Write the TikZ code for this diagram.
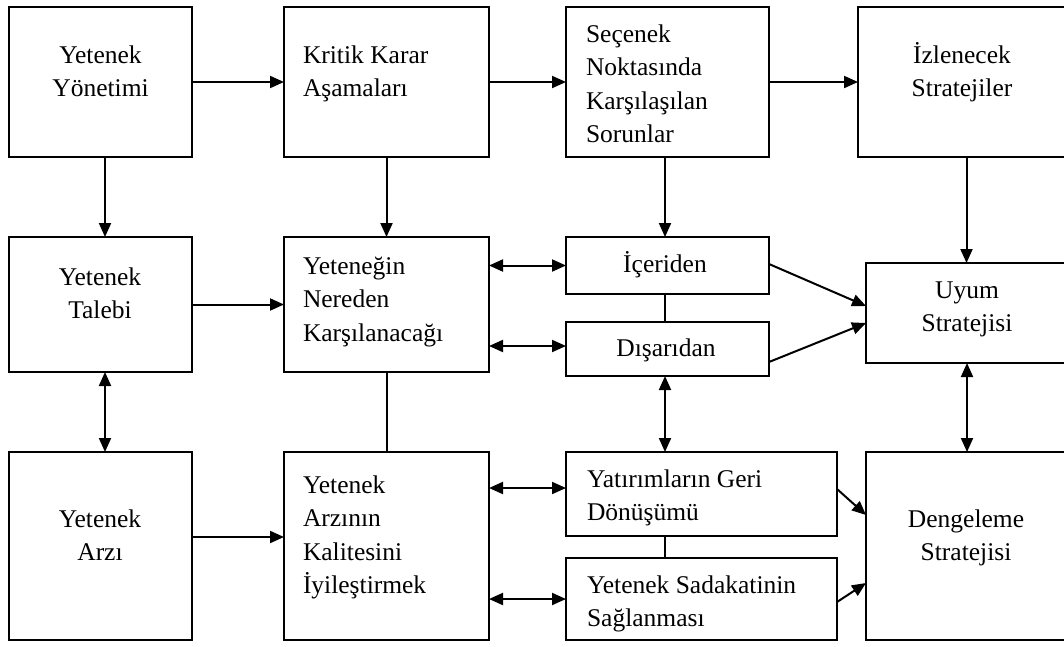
\documentclass[tikz,border=0pt]{standalone}
\usepackage{fontspec}
\setmainfont{Liberation Serif}
\usetikzlibrary{arrows.meta}
\tikzset{
  box/.style={draw, line width=2pt, inner sep=0pt, outer sep=0pt},
  lbl/.style={inner sep=0pt, outer sep=0pt, font=\fontsize{25.5}{33.5}\selectfont},
  lblL/.style={lbl, anchor=base west},
  lblC/.style={lbl, anchor=base},
  arr/.style={line width=2pt, -{Triangle[length=14pt,width=12pt]}},
  darr/.style={line width=2pt, {Triangle[length=14pt,width=12pt]}-{Triangle[length=14pt,width=12pt]}},
  ln/.style={line width=2pt},
}
\newcommand\Ltxt[1]{\begin{tabular}[t]{@{}l@{}}#1\end{tabular}}
\newcommand\Ctxt[1]{\begin{tabular}[t]{@{}c@{}}#1\end{tabular}}
\begin{document}
\begin{tikzpicture}[x=1pt,y=-1pt]
\useasboundingbox (0,0) rectangle (1064,646);
\clip (0,0) rectangle (1064,646);
\fill[white] (0,0) rectangle (1064,646);
% boxes
\node[box, minimum width=183pt, minimum height=150pt] (b1) at (100.5,82) {};
\node[box, minimum width=205pt, minimum height=150pt] (b2) at (386.5,82) {};
\node[box, minimum width=203pt, minimum height=150pt] (b3) at (667.5,82) {};
\node[box, minimum width=217pt, minimum height=150pt] (b4) at (966.5,82) {};
\node[box, minimum width=183pt, minimum height=135pt] (m1) at (100.5,304.5) {};
\node[box, minimum width=205pt, minimum height=135pt] (m2) at (386.5,304.5) {};
\node[box, minimum width=203pt, minimum height=57pt] (m3) at (667.5,265.5) {};
\node[box, minimum width=203pt, minimum height=54pt] (m4) at (667.5,349) {};
\node[box, minimum width=209pt, minimum height=100pt] (m5) at (970.5,313) {};
\node[box, minimum width=183pt, minimum height=188pt] (l1) at (100.5,546) {};
\node[box, minimum width=205pt, minimum height=188pt] (l2) at (386.5,546) {};
\node[box, minimum width=271pt, minimum height=84pt] (l3) at (701.5,494) {};
\node[box, minimum width=271pt, minimum height=82pt] (l4) at (701.5,599) {};
\node[box, minimum width=209pt, minimum height=188pt] (l5) at (970.5,546) {};
% texts
\node[lblC] (tb1) at (100.5,63) {\Ctxt{Yetenek\\Yönetimi}};
\node[lblL] (tb2) at (303,63) {\Ltxt{Kritik Karar\\Aşamaları}};
\node[lblL] (tb3) at (586,42) {\Ltxt{Seçenek\\Noktasında\\Karşılaşılan\\Sorunlar}};
\node[lblC] (tb4) at (962,63) {\Ctxt{İzlenecek\\Stratejiler}};
\node[lblC] (tm1) at (100,285) {\Ctxt{Yetenek\\Talebi}};
\node[lblL] (tm2) at (303,274) {\Ltxt{Yeteneğin\\Nereden\\Karşılanacağı}};
\node[lblC] (tm3) at (665,272) {İçeriden};
\node[lblC] (tm4) at (666,356) {Dışarıdan};
\node[lblC] (tm5) at (967,298) {\Ctxt{Uyum\\Stratejisi}};
\node[lblC] (tl1) at (100,527) {\Ctxt{Yetenek\\Arzı}};
\node[lblL] (tl2) at (303,493) {\Ltxt{Yetenek\\Arzının\\Kalitesini\\İyileştirmek}};
\node[lblL] (tl3) at (587,487) {\Ltxt{Yatırımların Geri\\Dönüşümü}};
\node[lblL] (tl4) at (587,593) {\Ltxt{Yetenek Sadakatinin\\Sağlanması}};
\node[lblC] (tl5) at (966,527) {\Ctxt{Dengeleme\\Stratejisi}};
% top row arrows
\draw[arr] (b1.east) -- (b2.west);
\draw[arr] (b2.east) -- (b3.west);
\draw[arr] (b3.east) -- (b4.west);
% vertical top -> middle
\draw[arr] ([xshift=4.5pt]b1.south) -- ([xshift=4.5pt]b1.south |- m1.north);
\draw[arr] (b2.south) -- (b2.south |- m2.north);
\draw[arr] ([xshift=-2.5pt]b3.south) -- ([xshift=-2.5pt]b3.south |- m3.north);
\draw[arr] (b4.south) -- (b4.south |- m5.north);
% middle row
\draw[arr] (m1.east) -- (m1.east -| m2.west);
\draw[darr] (m3.west -| m2.east) -- (m3.west);
\draw[darr] ([yshift=3pt]m4.west -| m2.east) -- ([yshift=3pt]m4.west);
\draw[ln] ([xshift=-2.5pt]m3.south) -- ([xshift=-2.5pt]m3.south |- m4.north);
\draw[arr] ([yshift=1.5pt]m3.east) -- ([yshift=7pt]m5.west);
\draw[arr] ([yshift=-13pt]m4.east) -- ([yshift=-10pt]m5.west);
% middle -> bottom
\draw[darr] ([xshift=4.5pt]m1.south) -- ([xshift=4.5pt]m1.south |- l1.north);
\draw[ln] (m2.south) -- (m2.south |- l2.north);
\draw[darr] ([xshift=-2.5pt]m4.south) -- ([xshift=-2.5pt]m4.south |- l3.north);
\draw[darr] ([xshift=-3.5pt]m5.south) -- ([xshift=-3.5pt]m5.south |- l5.north);
% bottom row
\draw[arr] ([yshift=9pt]l1.east) -- ([yshift=9pt]l1.east -| l2.west);
\draw[darr] ([yshift=6pt]l3.west -| l2.east) -- ([yshift=6pt]l3.west);
\draw[darr] (l4.west -| l2.east) -- (l4.west);
\draw[ln] ([xshift=-36.5pt]l3.south) -- ([xshift=-36.5pt]l3.south |- l4.north);
\draw[arr] ([yshift=5pt]l3.east) -- ([yshift=31pt]l5.west);
\draw[arr] ([yshift=-3pt]l4.east) -- ([yshift=-37pt]l5.west);
\end{tikzpicture}
\end{document}
